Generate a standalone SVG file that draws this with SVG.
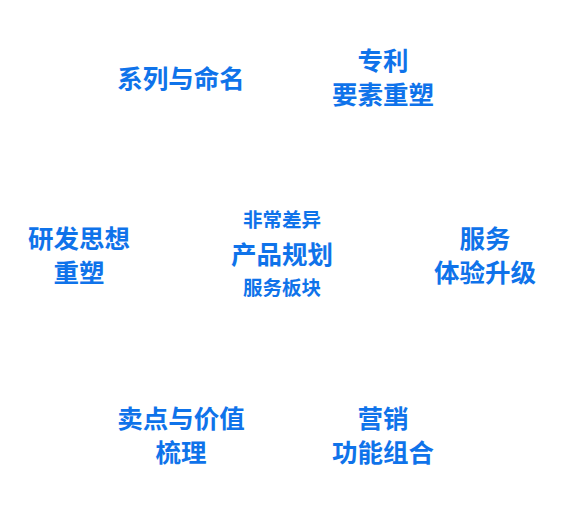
<svg xmlns="http://www.w3.org/2000/svg" width="563" height="509" viewBox="0 0 563 509">
<style>
text{font-family:"Noto Sans CJK SC","Noto Sans",sans-serif;font-weight:bold;fill:#0f73ea;text-anchor:middle}
.l{font-size:25.5px}
.s{font-size:19.5px}
</style>
<rect width="563" height="509" fill="#ffffff"/>
<g id="center">
<text class="s" x="282" y="227">非常差异</text>
<text class="l" x="282" y="264">产品规划</text>
<text class="s" x="282" y="295">服务板块</text>
</g>
<g id="node-naming"><text class="l" x="181" y="88">系列与命名</text></g>
<g id="node-patent"><text class="l" x="383" y="70">专利</text><text class="l" x="383" y="104">要素重塑</text></g>
<g id="node-rd"><text class="l" x="79" y="248">研发思想</text><text class="l" x="79" y="282">重塑</text></g>
<g id="node-service"><text class="l" x="485" y="248">服务</text><text class="l" x="485" y="282">体验升级</text></g>
<g id="node-selling"><text class="l" x="181" y="428">卖点与价值</text><text class="l" x="181" y="462">梳理</text></g>
<g id="node-marketing"><text class="l" x="383" y="428">营销</text><text class="l" x="383" y="462">功能组合</text></g>
<g id="connectors"></g>
</svg>
